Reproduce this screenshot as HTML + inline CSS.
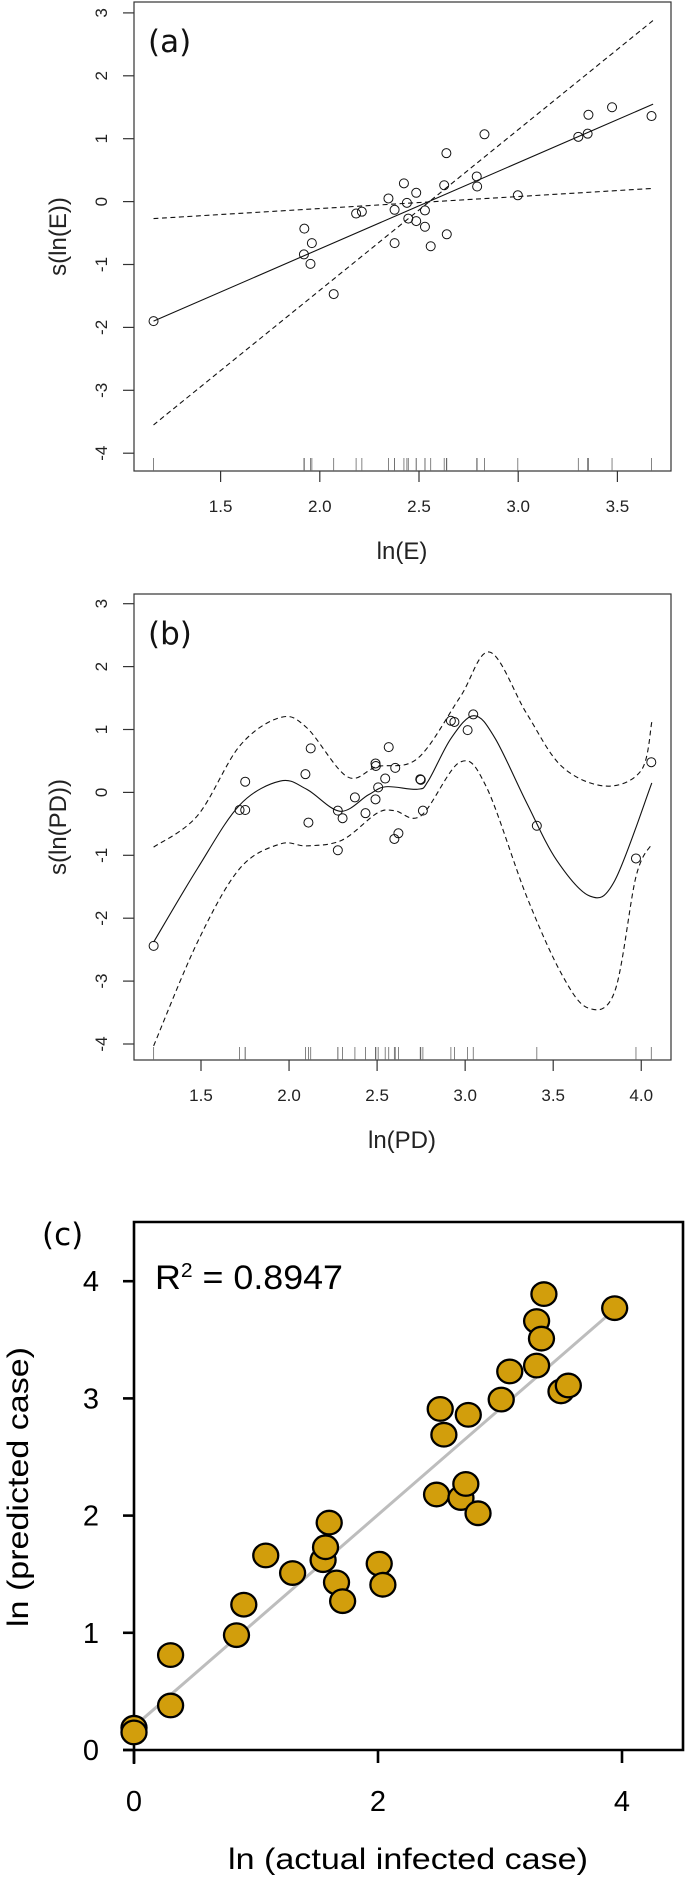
<!DOCTYPE html>
<html><head><meta charset="utf-8"><style>
html,body{margin:0;padding:0;background:#fff}
svg{display:block}
</style></head><body>
<svg id="fig" width="685" height="1877" xmlns="http://www.w3.org/2000/svg" font-family="Liberation Sans, sans-serif">
<g id="pa"></g>
<g id="pb"></g>
<g id="pc"></g>
</svg>
<script>
// ---- Panel (a) data
const aX=[1.162,1.922,1.920,1.960,1.953,2.070,2.183,2.212,2.346,2.424,2.377,2.439,2.446,2.486,2.486,2.530,2.530,2.377,2.559,2.627,2.638,2.640,2.791,2.793,2.830,2.998,3.303,3.350,3.354,3.473,3.672];
const aY=[-1.90,-0.43,-0.84,-0.66,-0.99,-1.47,-0.19,-0.16,0.05,0.29,-0.13,-0.02,-0.27,-0.31,0.14,-0.14,-0.40,-0.66,-0.71,0.26,0.77,-0.52,0.40,0.24,1.07,0.10,1.03,1.08,1.38,1.50,1.36];
const aFitX=[1.162,3.68];
const aFit=[-1.90,1.55];
const aUpper=[-3.55,2.88];
const aLower=[-0.27,0.21];
const aXTicks=[1.5,2.0,2.5,3.0,3.5];
const aXTickLabels=["1.5","2.0","2.5","3.0","3.5"];
const abYTicks=[3,2,1,0,-1,-2,-3,-4];
const abYTickLabels=["3","2","1","0","-1","-2","-3","-4"];
// ---- Panel (b) data
const bX=[1.231,1.719,1.751,1.751,2.093,2.110,2.123,2.277,2.277,2.304,2.374,2.434,2.491,2.491,2.493,2.506,2.546,2.566,2.598,2.603,2.621,2.745,2.748,2.760,2.919,2.939,3.014,3.046,3.407,3.970,4.057];
const bY=[-2.44,-0.28,-0.28,0.17,0.29,-0.48,0.70,-0.29,-0.92,-0.41,-0.08,-0.33,-0.11,0.46,0.42,0.08,0.22,0.72,-0.74,0.39,-0.65,0.21,0.20,-0.29,1.14,1.12,0.99,1.24,-0.53,-1.05,0.48];
const bFitX=[1.231,1.48,1.72,1.95,2.10,2.29,2.45,2.55,2.73,2.79,2.92,3.05,3.17,3.35,3.52,3.71,3.85,4.06];
const bFit=[-2.38,-1.21,-0.20,0.18,0.05,-0.30,-0.04,0.09,0.05,0.18,0.86,1.22,0.86,-0.17,-1.08,-1.65,-1.40,0.15];
const bUpX=[1.231,1.48,1.72,1.95,2.10,2.33,2.50,2.73,2.97,3.14,3.35,3.55,3.80,4.00,4.06];
const bUp=[-0.87,-0.37,0.74,1.19,1.03,0.25,0.41,0.54,1.51,2.23,1.25,0.41,0.10,0.35,1.12];
const bLoX=[1.231,1.48,1.72,1.95,2.10,2.30,2.50,2.60,2.75,2.97,3.12,3.35,3.55,3.70,3.85,3.97,4.06];
const bLo=[-4.03,-2.38,-1.21,-0.82,-0.85,-0.76,-0.33,-0.29,-0.37,0.48,0.09,-1.66,-2.90,-3.43,-3.16,-1.34,-0.82];
const bXTicks=[1.5,2.0,2.5,3.0,3.5,4.0];
const bXTickLabels=["1.5","2.0","2.5","3.0","3.5","4.0"];
// ---- Panel (c) data
const cX=[0,0,0.30,0.30,0.84,0.90,1.08,1.30,1.55,1.57,1.60,1.66,1.71,2.01,2.04,2.48,2.51,2.54,2.68,2.72,2.74,2.82,3.01,3.08,3.30,3.30,3.34,3.36,3.50,3.56,3.94];
const cY=[0.19,0.15,0.81,0.38,0.98,1.24,1.66,1.51,1.62,1.73,1.94,1.43,1.27,1.59,1.41,2.18,2.91,2.69,2.15,2.27,2.86,2.02,2.99,3.23,3.28,3.66,3.51,3.89,3.06,3.11,3.77];
const cLineX=[0,3.94];
const cLineY=[0.20,3.76];
const cXTicks=[0,2,4];
const cXTickLabels=["0","2","4"];
const cYTicks=[0,1,2,3,4];
const cYTickLabels=["0","1","2","3","4"];

const NS="http://www.w3.org/2000/svg";
function mk(parent,tag,attrs){const e=document.createElementNS(NS,tag);for(const k in attrs)e.setAttribute(k,attrs[k]);parent.appendChild(e);return e;}
function smooth(pts){
  let d="M"+pts[0][0]+","+pts[0][1];
  for(let i=0;i<pts.length-1;i++){
    const p0=pts[Math.max(0,i-1)],p1=pts[i],p2=pts[i+1],p3=pts[Math.min(pts.length-1,i+2)];
    const c1x=p1[0]+(p2[0]-p0[0])/6,c1y=p1[1]+(p2[1]-p0[1])/6;
    const c2x=p2[0]-(p3[0]-p1[0])/6,c2y=p2[1]-(p3[1]-p1[1])/6;
    d+=" C"+c1x+","+c1y+" "+c2x+","+c2y+" "+p2[0]+","+p2[1];
  }
  return d;
}

// ---------- Panels a & b (R style)
function rPanel(g,o){
  const sx=v=>o.x0+(v-o.xr)*o.xs, sy=v=>o.y0-v*o.ys;
  let e=mk(g,'rect',{x:134,y:o.top,width:537,height:o.bot-o.top,fill:'none',stroke:'#333','stroke-width':1.2});
  
  abYTicks.forEach((t,i)=>{
    const y=sy(t);
    let l=mk(g,'line',{x1:123,x2:134,y1:y,y2:y,stroke:'#333','stroke-width':1.2});
    
    let tx=mk(g,'text',{x:0,y:0,transform:`translate(107,${y}) rotate(-90)`,'text-anchor':'middle','font-size':17,fill:'#222'});
    tx.textContent=abYTickLabels[i];
    
  });
  o.xt.forEach((t,i)=>{
    const x=sx(t);
    let l=mk(g,'line',{x1:x,x2:x,y1:o.bot,y2:o.bot+11,stroke:'#333','stroke-width':1.2});
    
    let tx=mk(g,'text',{x:x,y:o.bot+41,'text-anchor':'middle','font-size':17,fill:'#222'});
    tx.textContent=o.xtl[i];
    
  });
  o.px.forEach(v=>{
    let l=mk(g,'line',{x1:sx(v),x2:sx(v),y1:o.bot,y2:o.bot-13,stroke:'#666','stroke-width':0.8});
    
  });
  const path=(xs,ys,dash,name)=>{
    const pts=xs.map((v,i)=>[sx(v),sy(ys[i])]);
    let p=mk(g,'path',{d:smooth(pts),fill:'none',stroke:'#111','stroke-width':1.1});
    if(dash)p.setAttribute('stroke-dasharray','5,3.5');
    
  };
  path(o.fx,o.fy,false,'fit-line');
  path(o.ux,o.uy,true,'upper-ci');
  path(o.lx,o.ly,true,'lower-ci');
  o.px.forEach((v,i)=>{
    let c=mk(g,'circle',{cx:sx(v),cy:sy(o.py[i]),r:4.5,fill:'none',stroke:'#111','stroke-width':1});
    
  });
  let xl=mk(g,'text',{x:402,y:o.bot+88,'text-anchor':'middle','font-size':24,fill:'#222'});
  xl.textContent=o.xlab;
  let yl=mk(g,'text',{x:0,y:0,transform:`translate(66,${(o.top+o.bot)/2}) rotate(-90)`,'text-anchor':'middle','font-size':24,fill:'#222'});
  yl.textContent=o.ylab;
  let pl=mk(g,'text',{x:148,y:o.top+50,'font-size':31,fill:'#111','font-family':'DejaVu Sans, sans-serif'});
  pl.textContent=o.lab;
}
rPanel(document.getElementById('pa'),{top:2,bot:471,x0:220.6,xr:1.5,xs:198.4,y0:201.6,ys:62.9,
  xt:aXTicks,xtl:aXTickLabels,px:aX,py:aY,fx:aFitX,fy:aFit,ux:aFitX,uy:aUpper,lx:aFitX,ly:aLower,
  xlab:'ln(E)',ylab:'s(ln(E))',lab:'(a)'});
rPanel(document.getElementById('pb'),{top:594,bot:1060,x0:201,xr:1.5,xs:176.1,y0:792.4,ys:62.9,
  xt:bXTicks,xtl:bXTickLabels,px:bX,py:bY,fx:bFitX,fy:bFit,ux:bUpX,uy:bUp,lx:bLoX,ly:bLo,
  xlab:'ln(PD)',ylab:'s(ln(PD))',lab:'(b)'});

// ---------- Panel c
(function(){
  const g=document.getElementById('pc');
  const sx=v=>134+v*122, sy=v=>1750-v*117.2;
  let f=mk(g,'path',{d:'M134,1764 L134,1222 L683,1222 L683,1750 L123,1750',fill:'none',stroke:'#000','stroke-width':2.6});
  
  cYTicks.forEach((t,i)=>{
    const y=sy(t);
    let l=mk(g,'line',{x1:123,x2:134,y1:y,y2:y,stroke:'#000','stroke-width':2.6});
    
    let tx=mk(g,'text',{x:99,y:y+10,'text-anchor':'end','font-size':29,fill:'#000'});
    tx.textContent=cYTickLabels[i];
  });
  cXTicks.forEach((t,i)=>{
    const x=sx(t);
    let l=mk(g,'line',{x1:x,x2:x,y1:1750,y2:1763,stroke:'#000','stroke-width':2.6});
    
    let tx=mk(g,'text',{x:x,y:1811,'text-anchor':'middle','font-size':29,fill:'#000'});
    tx.textContent=cXTickLabels[i];
  });
  let rl=mk(g,'line',{x1:sx(cLineX[0]),y1:sy(cLineY[0]),x2:sx(cLineX[1]),y2:sy(cLineY[1]),stroke:'#bdbdbd','stroke-width':3});
  
  cX.forEach((v,i)=>{
    let c=mk(g,'ellipse',{cx:sx(v),cy:sy(cY[i]),rx:12.5,ry:11.8,fill:'#D29E0C',stroke:'#000','stroke-width':2.3});
    
  });
  let r=mk(g,'text',{x:155,y:1289,'font-size':34,fill:'#000',textLength:188,lengthAdjust:'spacingAndGlyphs'});
  r.innerHTML='R<tspan dy="-12" font-size="20">2</tspan><tspan dy="12"> = 0.8947</tspan>';
  
  let xl=mk(g,'text',{x:408,y:1869,'text-anchor':'middle','font-size':30,fill:'#000',textLength:360,lengthAdjust:'spacingAndGlyphs'});
  xl.textContent='ln (actual infected case)';
  let yl=mk(g,'text',{x:0,y:0,transform:'translate(28,1487) rotate(-90)','text-anchor':'middle','font-size':30,fill:'#000',textLength:280,lengthAdjust:'spacingAndGlyphs'});
  yl.textContent='ln (predicted case)';
  let pl=mk(g,'text',{x:42,y:1245,'font-size':31,fill:'#000','font-family':'DejaVu Sans, sans-serif'});
  pl.textContent='(c)';
})();
</script>
</body></html>
